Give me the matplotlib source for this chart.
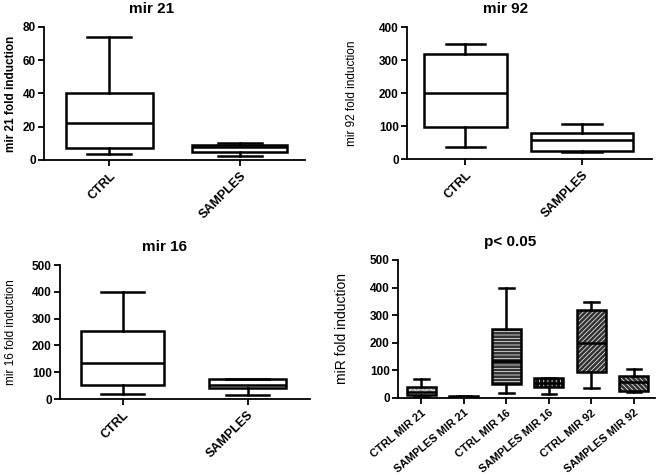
"""Box plots of miR fold induction, CTRL vs SAMPLES."""

import matplotlib
matplotlib.use("Agg")
import matplotlib.pyplot as plt
from matplotlib.patches import PathPatch

plt.rcParams['font.family'] = ['Liberation Sans', 'DejaVu Sans']
plt.rcParams['hatch.linewidth'] = 0.5

# five-number summaries: [min, q1, median, q3, max]
groups = ['CTRL', 'SAMPLES']
mir21 = [[3.5, 7.5, 22, 40, 74], [2.5, 5, 8, 9, 10]]
mir92 = [[35, 96, 200, 318, 347], [22, 25, 57, 80, 105]]
mir16 = [[17, 53, 135, 252, 398], [15, 41, 51, 74, 75]]

combined_labels = ['CTRL MIR 21', 'SAMPLES MIR 21', 'CTRL MIR 16',
                   'SAMPLES MIR 16', 'CTRL MIR 92', 'SAMPLES MIR 92']
combined = [[3, 10, 20, 40, 70], [0, 1, 4, 8, 9],
            [17, 52, 135, 250, 398], [15, 40, 55, 73, 73],
            [35, 95, 198, 318, 347], [22, 25, 57, 80, 105]]

# (face colour, hatch) for the combined panel; hatch drawn in white
combined_fills = [('#a8a8a8', 'xxxx'), ('black', ''), ('#333333', '-----'),
                  ('#111111', '||||'), ('#333333', '///////'),
                  ('#333333', '\\\\\\\\\\\\\\')]

W, H = 660, 475
LW = 1.8


def add_axes(fig, left, right, top, bottom):
    return fig.add_axes([left / W, 1 - bottom / H, (right - left) / W, (bottom - top) / H])


def to_stats(summaries):
    return [dict(whislo=s[0], q1=s[1], med=s[2], q3=s[3], whishi=s[4], fliers=[])
            for s in summaries]


def draw_box(ax, summaries, labels, title, ylabel, ymax, step, xlim, widths,
             title_x, ylabel_x, fills=None, label_size=9, rotation=45,
             ylabel_size=8.5, ylabel_weight='normal'):
    line = dict(color='black', linewidth=LW)
    bp = ax.bxp(to_stats(summaries), positions=range(1, len(summaries) + 1),
                widths=widths, patch_artist=True, showfliers=False,
                boxprops=dict(facecolor='white', edgecolor='black', linewidth=LW),
                medianprops=line, whiskerprops=line, capprops=line)
    if fills:
        for box, (fc, hatch) in zip(bp['boxes'], fills):
            under = PathPatch(box.get_path(), facecolor=fc, edgecolor='white',
                              hatch=hatch, linewidth=0, zorder=box.get_zorder() - 0.1)
            ax.add_patch(under)
            box.set_facecolor('none')
    for cap in bp['caps']:
        x = cap.get_xdata()
        c = (x[0] + x[1]) / 2
        cap.set_xdata([c - 0.17, c + 0.17])

    ax.set_ylim(0, ymax)
    ax.set_xlim(*xlim)
    ax.set_yticks(range(0, ymax + 1, step))
    ax.set_xticks(range(1, len(labels) + 1))
    ax.set_xticklabels(labels, rotation=rotation, ha='right', rotation_mode='anchor',
                       fontsize=label_size, fontweight='bold')
    for lab in ax.get_yticklabels():
        lab.set_fontweight('bold')
    ax.tick_params(axis='y', labelsize=8.5, width=1.3, length=4, pad=2)
    ax.tick_params(axis='x', width=1.3, length=4, pad=3)
    for side in ('top', 'right'):
        ax.spines[side].set_visible(False)
    for side in ('left', 'bottom'):
        ax.spines[side].set_linewidth(1.3)
    ax.set_title(title, fontsize=11, fontweight='bold', pad=10, x=title_x)
    ax.set_ylabel(ylabel, fontsize=ylabel_size, fontweight=ylabel_weight)
    ax.yaxis.set_label_coords(ylabel_x, 0.5)


fig = plt.figure(figsize=(W / 100, H / 100), dpi=100)

ax1 = add_axes(fig, 44, 305, 27, 160)
draw_box(ax1, mir21, groups, 'mir 21', 'mir 21 fold induction', 80, 20, (0.5, 2.5),
         [0.67, 0.73], 0.414, -0.105, ylabel_weight='bold')

ax2 = add_axes(fig, 407, 652, 27, 159)
draw_box(ax2, mir92, groups, 'mir 92', 'mir 92 fold induction', 400, 100, (0.5, 2.6),
         [0.71, 0.88], 0.404, -0.2)

ax3 = add_axes(fig, 60, 310, 265, 399)
draw_box(ax3, mir16, groups, 'mir 16', 'mir 16 fold induction', 500, 100, (0.5, 2.5),
         [0.67, 0.61], 0.416, -0.17)

ax4 = add_axes(fig, 398, 655, 260, 398)
draw_box(ax4, combined, combined_labels, 'p< 0.05', 'miR fold induction', 500, 100,
         (0.45, 6.5), 0.68, 0.436, -0.19, fills=combined_fills, label_size=8,
         rotation=40, ylabel_size=10)

fig.savefig('out.png', dpi=100)
